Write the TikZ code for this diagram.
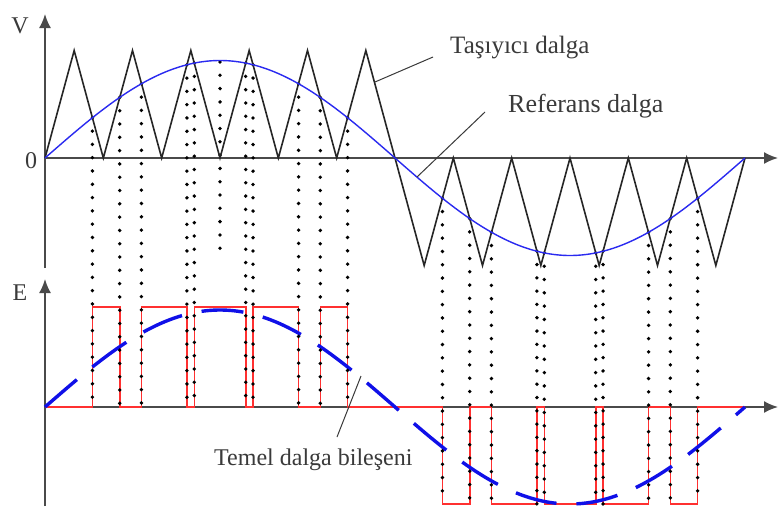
\documentclass[tikz,border=0pt]{standalone}
\usepackage{fontspec}
\setmainfont{Liberation Serif}
\usetikzlibrary{arrows.meta}
\definecolor{axisgray}{HTML}{4A4A4A}
\definecolor{textgray}{HTML}{3A3A3A}
\definecolor{refblue}{HTML}{2A2AF0}
\definecolor{fundblue}{HTML}{1010E8}
\definecolor{pulsered}{HTML}{FF3030}
\newcommand\dotcol[3]{%
  \pgfmathtruncatemacro\nd{((#3)-(#2))/13.3}%
  \foreach \t in {0,...,\nd} \fill[dotfill] (#1,{#2+13.3*\t}) circle[radius=1.9pt];%
}
\begin{document}
\begin{tikzpicture}[x=1pt,y=-1pt,
  axis/.style={draw=axisgray, line width=1.8pt, -{Latex[length=14pt,width=12pt]}},
  carrier/.style={draw=black!85, line width=1.6pt, line join=miter},
  refw/.style={draw=refblue, line width=1.4pt},
  pulse/.style={draw=pulsered, line width=1.6pt},
  fund/.style={draw=fundblue, line width=3.4pt, dash pattern=on 42pt off 20pt},
  dotfill/.style={fill=black},
  lbl/.style={text=textgray, inner sep=0pt, anchor=base west},
  axlbl/.style={text=textgray, inner sep=0pt, anchor=base, font=\fontsize{24}{28}\selectfont},
  leader/.style={draw=textgray, line width=1pt}]
\useasboundingbox (0,0) rectangle (783,506);
\fill[white] (0,0) rectangle (783,506);
% axis coordinates
\coordinate (VB) at (45,268);
\coordinate (VT) at (45,14);
\coordinate (VO) at (45,158);
\coordinate (VR) at (778,158);
\coordinate (EB) at (45,506);
\coordinate (ET) at (45,279);
\coordinate (EO) at (45,407);
\coordinate (ER) at (778,407);
\draw[axis] (VB) -- (VT);
\draw[axis] (VO) -- (VR);
\draw[axis] (EB) -- (ET);
\draw[axis] (EO) -- (ER);
% axis labels
\node[axlbl] (Vl) at (20,33) {V};
\node[axlbl] (Zl) at (31,168) {0};
\node[axlbl] (El) at (20,300) {E};
% pulses
\draw[pulse] (45,407)
  foreach \a/\b in {92.4/119.7, 141.4/186.9, 194.3/245.7, 253.05/298.6, 320.3/347.6}
    { -- (\a,407) -- (\a,307) -- (\b,307) -- (\b,407) }
  foreach \a/\b in {442.4/469.7, 491.4/536.9, 544.3/595.7, 603.05/648.6, 670.3/697.6}
    { -- (\a,407) -- (\a,504) -- (\b,504) -- (\b,407) }
  -- (745,407);
% fundamental
\draw[fund] plot[domain=45:745,samples=240] (\x,{407-97*sin((\x-45)*0.5142857)});
% dotted projection lines
\foreach \a in {92.4,119.7,141.4,186.9,194.3,245.7,253.05,298.6,320.3,347.6}{
  \pgfmathsetmacro\yo{158-97.5*sin((\a-45)*0.5142857)}
  \dotcol{\a}{\yo}{407}
}
\foreach \a in {442.4,469.7,491.4,536.9,544.3,595.7,603.05,648.6,670.3,697.6}{
  \pgfmathsetmacro\yo{158-97.5*sin((\a-45)*0.5142857)}
  \dotcol{\a}{\yo}{504}
}
\dotcol{220}{62}{258}
% carrier
\draw[carrier] (45,158)
  foreach \k in {0,...,5} { -- ({45+58.3333*(\k+0.5)},50.5) -- ({45+58.3333*(\k+1)},158) }
  foreach \k in {0,...,5} { -- ({395+58.3333*(\k+0.5)},265.5) -- ({395+58.3333*(\k+1)},158) };
% reference sine
\draw[refw] plot[domain=45:745,samples=240] (\x,{158-97.5*sin((\x-45)*0.5142857)});
% labels and leaders
\node[lbl, font=\fontsize{25}{30}\selectfont] (tas) at (450,53) {Taşıyıcı dalga};
\node[lbl, font=\fontsize{26}{30}\selectfont] (ref) at (508,112) {Referans dalga};
\node[lbl, font=\fontsize{24}{28}\selectfont] (tem) at (214,465) {Temel dalga bileşeni};
\coordinate (tasA) at (433,57);
\coordinate (tasB) at (375,82);
\coordinate (refA) at (485,112);
\coordinate (refB) at (417,177);
\coordinate (temA) at (337,437);
\coordinate (temB) at (361,376);
\draw[leader] (tasA) -- (tasB);
\draw[leader] (refA) -- (refB);
\draw[leader] (temA) -- (temB);
\end{tikzpicture}
\end{document}
